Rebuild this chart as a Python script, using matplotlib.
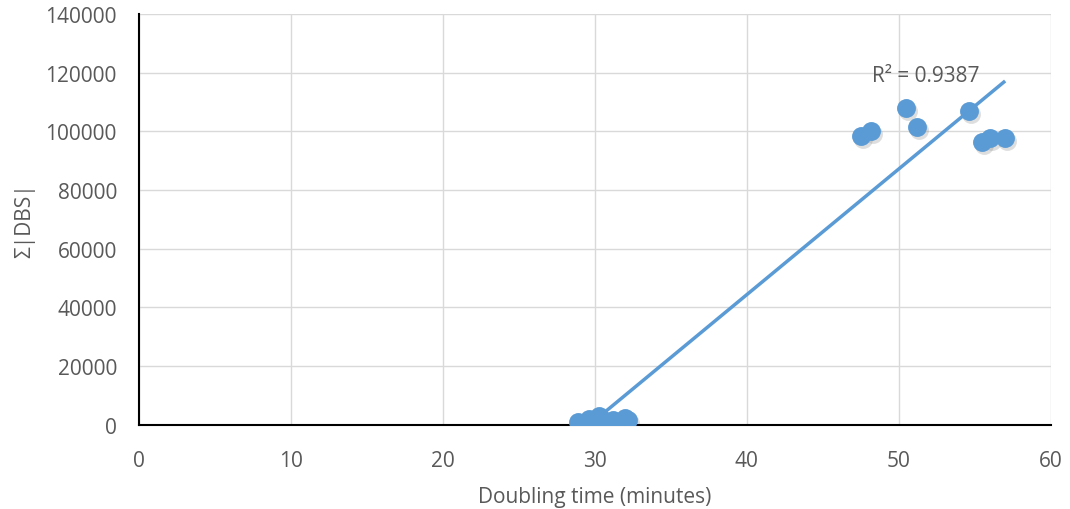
import matplotlib
matplotlib.use("Agg")
import matplotlib.pyplot as plt
import numpy as np

doubling_time = [28.9, 29.6, 30.3, 30.5, 31.2, 32.0, 32.2, 30.8,
                 47.5, 48.2, 50.5, 51.2, 54.6, 55.5, 56.0, 57.0]
sum_dbs = [1000, 2000, 3000, 1500, 1800, 2400, 1800, 1000,
           98500, 100200, 107900, 101400, 107000, 96300, 97600, 97600]
x_ticks = [0, 10, 20, 30, 40, 50, 60]
y_ticks = [0, 20000, 40000, 60000, 80000, 100000, 120000, 140000]
r2_label = "R² = 0.9387"

blue = "#5B9BD5"
grey_text = "#595959"
plt.rcParams['font.family'] = ['Open Sans', 'DejaVu Sans']

fig = plt.figure(figsize=(10.7, 5.1), dpi=100)
ax = fig.add_axes([0.13, 0.165, 0.852, 0.806])

x = np.array(doubling_time)
y = np.array(sum_dbs)
# soft shadow beneath markers
ax.scatter(x + 0.12, y - 1000, s=185, color="#7f7f7f", alpha=0.25, zorder=2, linewidths=0)
ax.scatter(x, y, s=185, color=blue, zorder=3, linewidths=0)

slope, intercept = np.polyfit(x, y, 1)
xs = np.array([x.min(), x.max()])
ax.plot(xs, slope * xs + intercept, color=blue, lw=2.5, zorder=4, solid_capstyle='butt')

ax.text(51.8, 118900, r2_label, fontsize=15, color=grey_text, ha='center', va='center', zorder=5)

ax.set_xlim(0, 60)
ax.set_ylim(0, 140000)
ax.set_xticks(x_ticks)
ax.set_yticks(y_ticks)
ax.grid(True, color="#d9d9d9", lw=1)
ax.set_axisbelow(True)
for s in ['top', 'right']:
    ax.spines[s].set_visible(False)
for s in ['left', 'bottom']:
    ax.spines[s].set_color('black')
    ax.spines[s].set_linewidth(1.5)
ax.tick_params(length=0, labelsize=15, labelcolor=grey_text)
ax.tick_params(axis='y', pad=16)
ax.tick_params(axis='x', pad=18)
ax.set_xlabel("Doubling time (minutes)", fontsize=15, color=grey_text, labelpad=11)
ax.set_ylabel("Σ|DBS|", fontsize=15, color=grey_text, labelpad=7)

fig.savefig("out.png", dpi=100)
